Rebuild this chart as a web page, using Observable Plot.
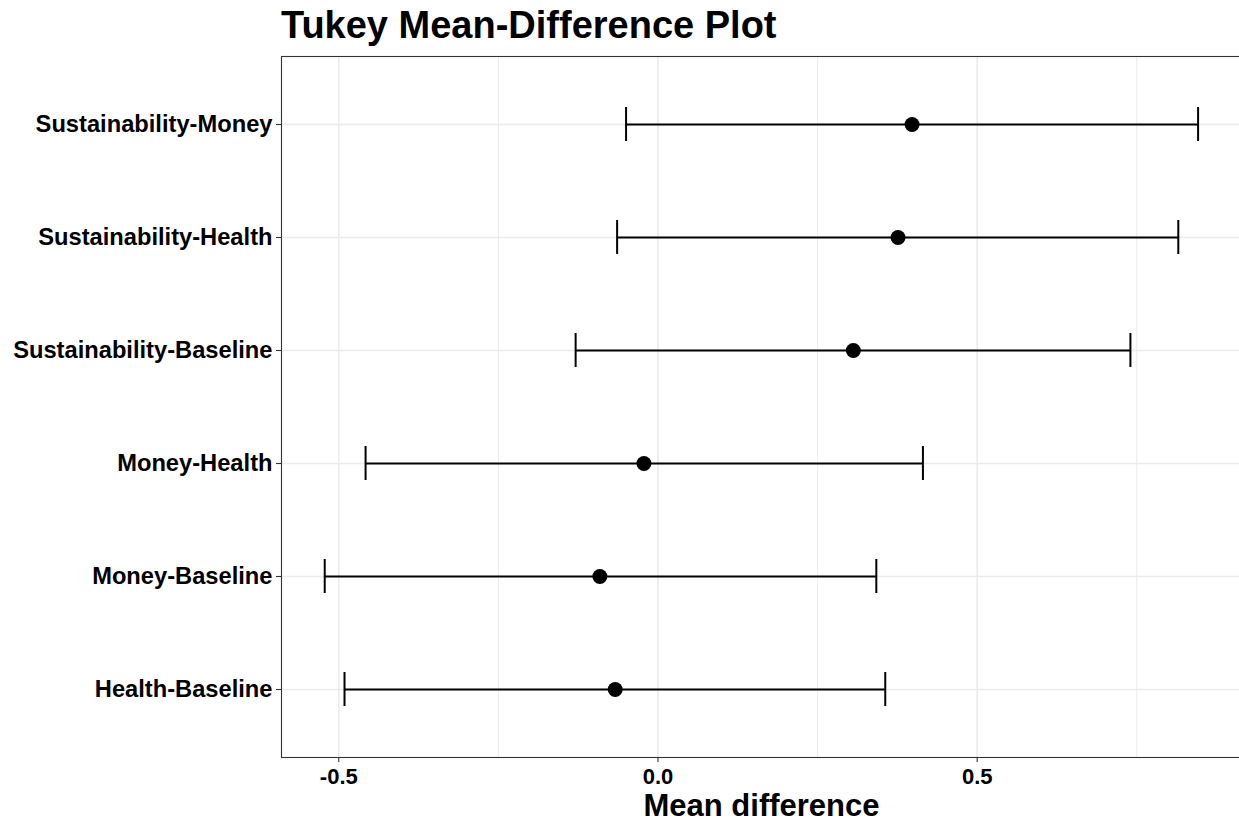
<!DOCTYPE html>
<html>
<head>
<meta charset="utf-8">
<script src="https://cdn.jsdelivr.net/npm/d3@7"></script>
<script src="https://cdn.jsdelivr.net/npm/@observablehq/plot@0.6"></script>
<style>
  html, body { margin: 0; padding: 0; background: #fff; overflow: hidden; }
  body { font-family: "Liberation Sans", Arial, Helvetica, sans-serif; }
  #title { height: 48px; padding-top: 6px; padding-left: 281px; font-size: 38px; line-height: 38px; font-weight: bold; color: #000; white-space: nowrap; }
  #chart svg { display: block; overflow: hidden; }
</style>
</head>
<body>
<div id="title">Tukey Mean-Difference Plot</div>
<div id="chart"></div>
<script>
// Comparisons (bottom to top as drawn)
const comparisons = ["Health-Baseline", "Money-Baseline", "Money-Health", "Sustainability-Baseline", "Sustainability-Health", "Sustainability-Money"];
const meanDiff = [-0.067, -0.091, -0.022, 0.306, 0.376, 0.398];
const lowerCI = [-0.491, -0.522, -0.458, -0.129, -0.064, -0.050];
const upperCI = [0.356, 0.342, 0.415, 0.740, 0.815, 0.846];
const xMajorTicks = [-0.5, 0, 0.5];
const xMinorTicks = [-0.25, 0.25, 0.75];
const xTitle = "Mean difference";

const data = comparisons.map((c, i) => ({comparison: c, diff: meanDiff[i], lwr: lowerCI[i], upr: upperCI[i]}));
const yDomain = comparisons.slice().reverse();

const font = "Liberation Sans, Arial, Helvetica, sans-serif";

const chart = Plot.plot({
  width: 1239,
  height: 768,
  marginTop: 2,
  marginBottom: 65,
  marginLeft: 281,
  marginRight: -2,
  style: {fontFamily: font, background: "#fff"},
  x: {domain: [-0.5897, 0.914]},
  y: {type: "band", domain: yDomain, paddingInner: 0.7, paddingOuter: 0.446, align: 0.5},
  marks: [
    Plot.gridX(xMinorTicks, {stroke: "#ebebeb", strokeOpacity: 1, strokeWidth: 1}),
    Plot.gridX(xMajorTicks, {stroke: "#ebebeb", strokeOpacity: 1, strokeWidth: 1.6}),
    Plot.gridY(yDomain, {stroke: "#ebebeb", strokeOpacity: 1, strokeWidth: 1.6}),
    Plot.frame({stroke: "#333333", strokeWidth: 1.1}),
    Plot.ruleY(data, {y: "comparison", x1: "lwr", x2: "upr", stroke: "#000", strokeWidth: 2}),
    Plot.tickX(data, {x: "lwr", y: "comparison", stroke: "#000", strokeWidth: 2}),
    Plot.tickX(data, {x: "upr", y: "comparison", stroke: "#000", strokeWidth: 2}),
    Plot.dot(data, {x: "diff", y: "comparison", r: 7.5, fill: "#000", stroke: "none"}),
    Plot.axisY(yDomain, {tickSize: 5, tickPadding: 4, stroke: "#333333", strokeWidth: 1.1, fill: "#000", fontSize: 23.7, fontWeight: "bold", label: null}),
    Plot.axisX(xMajorTicks, {tickSize: 5, tickPadding: 6, stroke: "#333333", strokeWidth: 1.1, fill: "#000", fontSize: 22, fontWeight: "bold", tickFormat: d => d.toFixed(1), label: null}),
    Plot.text([xTitle], {frameAnchor: "bottom", dy: 49, lineAnchor: "middle", fontSize: 31, fontWeight: "bold", fill: "#000"})
  ]
});
document.getElementById("chart").appendChild(chart);
</script>
</body>
</html>
